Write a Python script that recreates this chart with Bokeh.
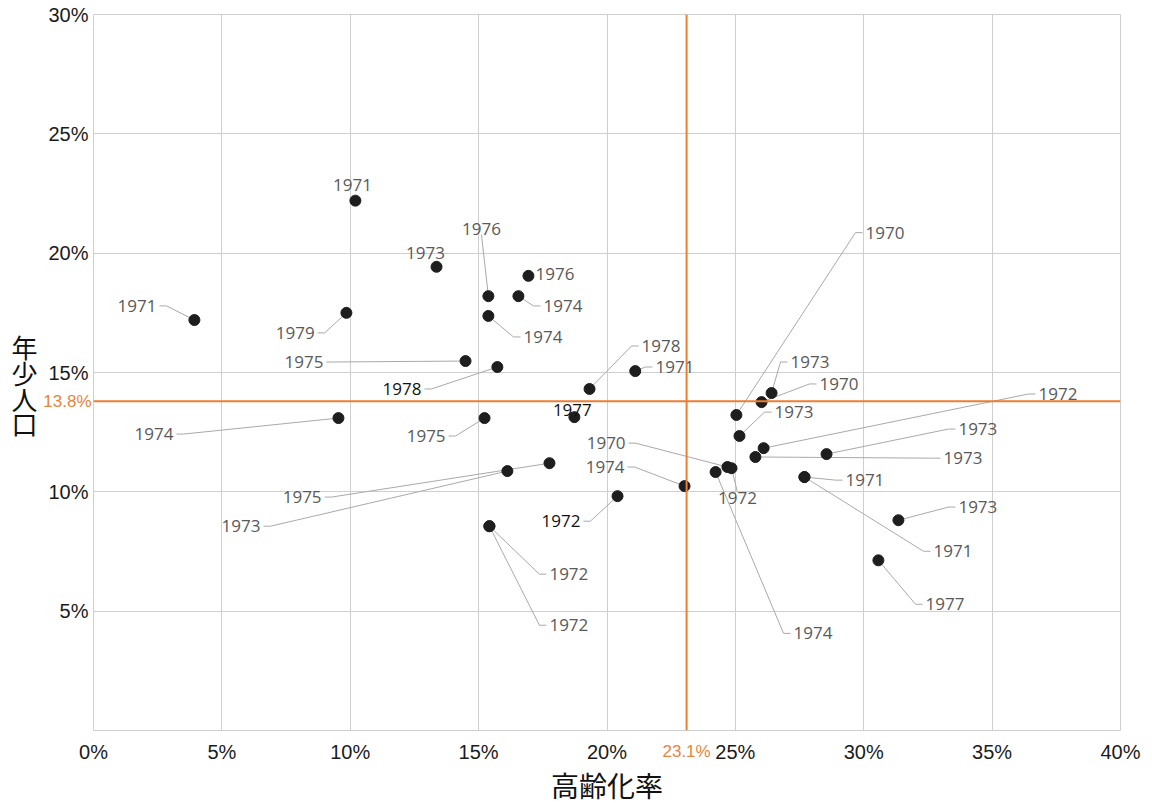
from bokeh.plotting import figure
from bokeh.models import FixedTicker, Span, ColumnDataSource, Range1d, LinearAxis
from bokeh.core.properties import value
from bokeh.embed import file_html
from bokeh.resources import INLINE

# ---------------- data ----------------
years = ["1971", "1971", "1979", "1973", "1976", "1976", "1974", "1974", "1975", "1978",
         "1978", "1971", "1974", "1975", "1977", "1975", "1973", "1972", "1972", "1972",
         "1974", "1970", "1972", "1974", "1970", "1973", "1970", "1973", "1972", "1973",
         "1973", "1971", "1971", "1973", "1977"]
aging_rate = [10.2, 3.93, 9.85, 13.36, 15.38, 16.94, 16.55, 15.38, 14.49, 15.73,
              19.32, 21.1, 9.54, 15.23, 18.73, 17.76, 16.12, 20.41, 15.42, 15.42,
              23.02, 24.69, 24.85, 24.23, 25.04, 26.41, 26.02, 25.16, 26.1, 28.55,
              25.78, 27.69, 27.69, 31.35, 30.57]
youth_pop = [22.2, 17.2, 17.5, 19.43, 18.2, 19.05, 18.2, 17.37, 15.48, 15.23,
             14.31, 15.06, 13.09, 13.09, 13.13, 11.2, 10.87, 9.82, 8.56, 8.56,
             10.24, 11.04, 10.99, 10.83, 13.22, 14.14, 13.76, 12.34, 11.83, 11.58,
             11.46, 10.62, 10.62, 8.81, 7.13]

avg_aging = 23.1
avg_youth = 13.8
x_ticks = [0, 5, 10, 15, 20, 25, 30, 35, 40]
y_ticks = [5, 10, 15, 20, 25, 30]
x_title = "高齢化率"
y_title = "年少人口"

# label anchors (data units) and placement modes
label_x = [10.09, 2.57, 8.73, 12.93, 15.11, 17.22, 17.41, 16.63, 9.07, 12.89,
           21.23, 21.77, 3.23, 13.83, 18.65, 9.0, 6.62, 19.08, 17.64, 17.64,
           20.8, 20.84, 25.08, 27.15, 29.95, 27.03, 28.16, 26.41, 36.69, 33.57,
           32.99, 29.17, 32.6, 33.57, 32.29]
label_y = [22.87, 17.79, 16.66, 20.02, 20.77, 19.14, 17.79, 16.49, 15.44, 14.31,
           16.11, 15.23, 12.42, 12.34, 13.43, 9.78, 8.56, 8.77, 6.55, 4.41,
           11.04, 12.04, 9.99, 4.07, 20.86, 15.44, 14.52, 13.34, 14.1, 12.63,
           11.41, 10.49, 7.51, 9.36, 5.29]
label_mode = ["C", "R", "R", "C", "T", "Ln", "L", "L", "R", "R",
              "L", "L", "R", "R", "C", "R", "R", "R", "L", "L",
              "R", "R", "B", "L", "L", "L", "L", "L", "L", "L",
              "L", "L", "L", "L", "L"]
dark_labels = {9, 14, 17}

# ---------------- styling ----------------
ORANGE = "#ED7D31"
ORANGE_TXT = "#E8843C"
GRID = "#cfcfcf"
LEADER = "#a9a9a9"
TXT = "#595959"
W, H = 1152, 805
ML, MR, MT, MB = 93, 32, 14, 75
px_x = (40 - 0) / (W - ML - MR)

p = figure(width=W, height=H, output_backend="svg", toolbar_location=None,
           x_range=Range1d(0, 40), y_range=Range1d(0, 30),
           min_border_left=ML, min_border_right=MR, min_border_top=MT, min_border_bottom=MB)
p.background_fill_color = "white"
p.border_fill_color = "white"
p.outline_line_color = GRID
p.outline_line_width = 1


def style_axis(ax, color="#1a1a1a", size="20px"):
    ax.axis_line_color = None
    ax.major_tick_line_color = None
    ax.minor_tick_line_color = None
    ax.major_tick_out = 0
    ax.major_tick_in = 0
    ax.minor_tick_out = 0
    ax.minor_tick_in = 0
    ax.major_label_text_font = "Liberation Sans"
    ax.major_label_text_font_size = size
    ax.major_label_text_color = color
    ax.axis_label_text_font = "Noto Sans CJK JP"
    ax.axis_label_text_font_style = "normal"
    ax.axis_label_text_color = "#111111"


xa, ya = p.xaxis[0], p.yaxis[0]
style_axis(xa)
style_axis(ya)
xa.ticker = FixedTicker(ticks=x_ticks)
ya.ticker = FixedTicker(ticks=y_ticks)
xa.major_label_overrides = {t: f"{t}%" for t in x_ticks}
ya.major_label_overrides = {t: f"{t}%" for t in y_ticks}
xa.axis_label = x_title
# Latin-metric font first keeps the title's box compact; CJK glyphs fall back
xa.axis_label_text_font = "'Liberation Sans', 'Noto Sans CJK JP'"
xa.axis_label_text_font_size = "28px"
# vertical title: one character per line, a blank first line nudges it down
ya.axis_label = "\n".join(["\u3000"] + list(y_title))
ya.axis_label_orientation = "horizontal"
ya.axis_label_text_font_size = "26px"
ya.axis_label_text_line_height = 0.69

# orange reference-value labels: inner axes; the main axes sit outside them
# and pull their tick labels back in with a negative standoff
xa2 = LinearAxis(ticker=FixedTicker(ticks=[avg_aging]),
                 major_label_overrides={avg_aging: f"{avg_aging}%"})
style_axis(xa2, ORANGE_TXT, "17px")
xa2.major_label_standoff = 11
ya2 = LinearAxis(ticker=FixedTicker(ticks=[avg_youth]),
                 major_label_overrides={avg_youth: f"{avg_youth}%"})
style_axis(ya2, ORANGE_TXT, "17px")
ya2.major_label_standoff = 2
p.add_layout(xa2, "below")
p.add_layout(ya2, "left")
p.below = [xa2, xa]
p.left = [ya2, ya]

xa.major_label_standoff = -23
xa.axis_label_standoff = 6
ya.major_label_standoff = -48
ya.axis_label_standoff = 8

p.xgrid.ticker = FixedTicker(ticks=x_ticks)
p.ygrid.ticker = FixedTicker(ticks=[0] + y_ticks)
p.xgrid.grid_line_color = GRID
p.ygrid.grid_line_color = GRID

# reference lines
p.add_layout(Span(location=avg_aging, dimension="height", line_color=ORANGE, line_width=2))
p.add_layout(Span(location=avg_youth, dimension="width", line_color=ORANGE, line_width=2))

# leader lines
bend = 7 * px_x
xs, ys = [], []
for i in range(len(years)):
    m = label_mode[i]
    if m in ("C", "Ln"):
        continue
    x0, y0, lx, ly = aging_rate[i], youth_pop[i], label_x[i], label_y[i]
    if m == "L":
        xs.append([x0, lx - bend, lx]); ys.append([y0, ly, ly])
    elif m == "R":
        xs.append([x0, lx + bend, lx]); ys.append([y0, ly, ly])
    else:
        xs.append([x0, lx]); ys.append([y0, ly])
p.multi_line(xs, ys, line_color=LEADER, line_width=1)

# points
p.scatter(aging_rate, youth_pop, size=11, fill_color="#1e1e1e", line_color="#1e1e1e")

# labels
align_map = {"C": ("center", "middle", 0), "T": ("center", "bottom", 0), "B": ("center", "top", 0),
             "L": ("left", "middle", 3), "Ln": ("left", "middle", 0), "R": ("right", "middle", -3)}
lab = dict(x=[], y=[], text=[], align=[], base=[], xo=[], color=[])
for i in range(len(years)):
    a, b, xo = align_map[label_mode[i]]
    lab["x"].append(label_x[i]); lab["y"].append(label_y[i]); lab["text"].append(years[i])
    lab["align"].append(a); lab["base"].append(b); lab["xo"].append(xo)
    lab["color"].append("#111111" if i in dark_labels else TXT)
src = ColumnDataSource(lab)
p.text(x="x", y="y", text="text", source=src, text_align="align", text_baseline="base",
       x_offset="xo", text_color="color", text_font=value("Open Sans"), text_font_size="17px")

open("out.html", "w").write(file_html(p, INLINE))
